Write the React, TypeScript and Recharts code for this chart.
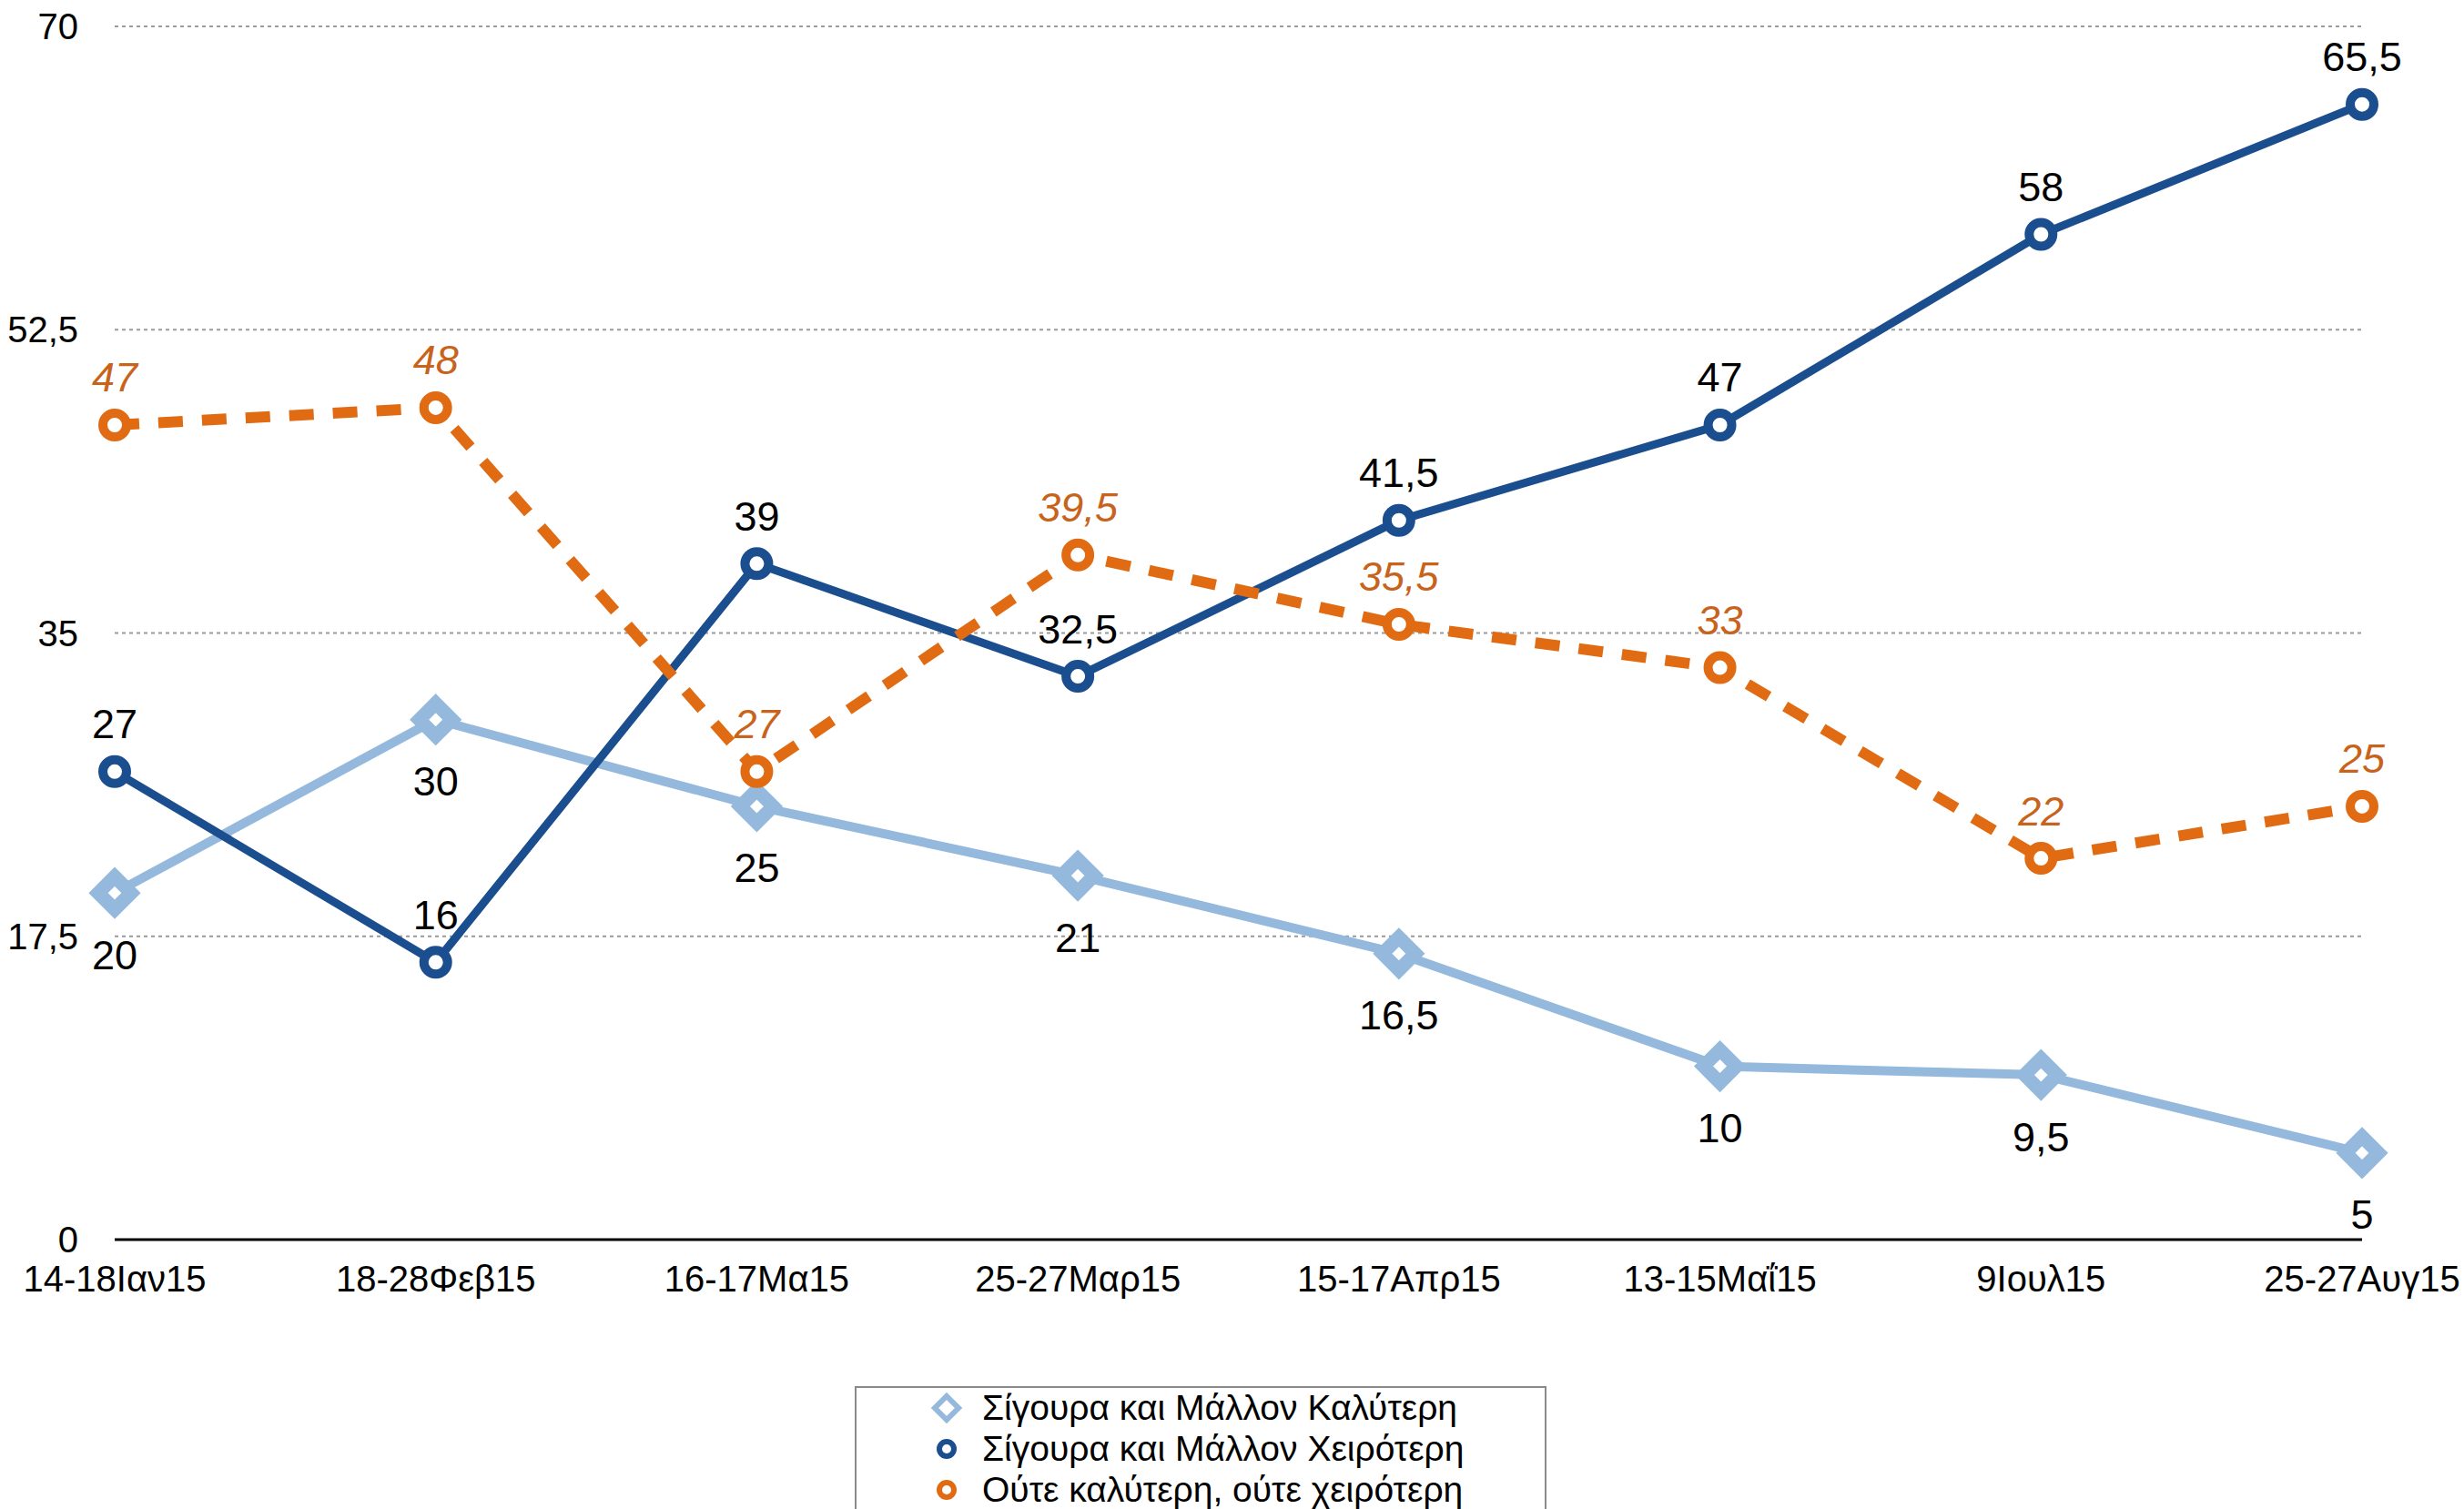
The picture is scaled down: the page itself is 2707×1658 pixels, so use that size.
import React from 'react';
import { LineChart, Line, XAxis, YAxis, CartesianGrid, LabelList, Legend } from 'recharts';

const categories = ['14-18Ιαν15', '18-28Φεβ15', '16-17Μα15', '25-27Μαρ15', '15-17Απρ15', '13-15Μαΐ15', '9Ιουλ15', '25-27Αυγ15'];
const better = [20, 30, 25, 21, 16.5, 10, 9.5, 5];
const worse = [27, 16, 39, 32.5, 41.5, 47, 58, 65.5];
const neither = [47, 48, 27, 39.5, 35.5, 33, 22, 25];
const yTicks = [0, 17.5, 35, 52.5, 70];

const seriesNames = {
  better: 'Σίγουρα και Μάλλον Καλύτερη',
  worse: 'Σίγουρα και Μάλλον Χειρότερη',
  neither: 'Ούτε καλύτερη, ούτε χειρότερη',
};

const LIGHT = '#94B9DD';
const DARK = '#1A4E8F';
const ORANGE = '#E06B12';
const ORANGE_TXT = '#C8631C';
const FONT = '"Liberation Sans", Arial, sans-serif';

const data = categories.map((c, i) => ({ cat: c, better: better[i], worse: worse[i], neither: neither[i] }));

const fmt = (v: number) => String(v).replace('.', ',');

const mkLabel = (dy: number, color: string, italic: boolean) => (props: any) => {
  const { x, y, value } = props;
  return (
    <text x={x} y={y + dy} textAnchor="middle" dominantBaseline="central" fontSize={45}
      fill={color} fontStyle={italic ? 'italic' : 'normal'} fontFamily={FONT}>
      {fmt(value)}
    </text>
  );
};

const diamondDot = (props: any) => {
  const { cx, cy, index } = props;
  const d = 18;
  return (
    <path key={'d' + index} d={`M${cx},${cy - d}L${cx + d},${cy}L${cx},${cy + d}L${cx - d},${cy}Z`}
      fill="#fff" stroke={LIGHT} strokeWidth={15} strokeLinejoin="miter" />
  );
};

const circleDot = (color: string) => (props: any) => {
  const { cx, cy, index } = props;
  return <circle key={'c' + index} cx={cx} cy={cy} r={13} fill="#fff" stroke={color} strokeWidth={10} />;
};

const LegendContent = () => {
  const rows = [
    { name: seriesNames.better, type: 'diamond', color: LIGHT },
    { name: seriesNames.worse, type: 'circle', color: DARK },
    { name: seriesNames.neither, type: 'circle', color: ORANGE },
  ];
  return (
    <div style={{ width: 760, height: 150, border: '2px solid #8a8a8a', boxSizing: 'border-box', background: '#fff', position: 'relative' }}>
      {rows.map((r, i) => (
        <div key={i} style={{ position: 'absolute', left: 0, top: i * 45, height: 44, width: 756 }}>
          <svg width={40} height={40} style={{ position: 'absolute', left: 79, top: 2 }}>
            {r.type === 'diamond' ? (
              <path d="M20,7L33,20L20,33L7,20Z" fill="#fff" stroke={r.color} strokeWidth={6} />
            ) : (
              <circle cx={20} cy={20} r={8} fill="#fff" stroke={r.color} strokeWidth={6} />
            )}
          </svg>
          <span style={{ position: 'absolute', left: 138, whiteSpace: 'nowrap', fontFamily: FONT, fontSize: 39, color: '#000', lineHeight: '44px', top: 0 }}>
            {r.name}
          </span>
        </div>
      ))}
    </div>
  );
};

export default function App() {
  return (
    <div style={{ position: 'absolute', left: 0, top: 0, width: 2707, height: 1658, overflow: 'hidden', background: '#fff' }}>
      <LineChart width={2707} height={1658} data={data} margin={{ top: 29, right: 112, left: 26, bottom: 236 }}>
        <CartesianGrid vertical={false} strokeDasharray="4 4" stroke="#9a9a9a" strokeWidth={2} />
        <XAxis dataKey="cat" interval={0} tickLine={false} tickSize={0} tickMargin={29} height={60}
          axisLine={{ stroke: '#000', strokeWidth: 3 }}
          tick={{ fontSize: 40, fill: '#000', fontFamily: FONT }} />
        <YAxis domain={[0, 70]} ticks={yTicks} interval={0} axisLine={false} tickLine={false} tickSize={0} tickMargin={40} width={100}
          tickFormatter={fmt} tick={{ fontSize: 40, fill: '#000', fontFamily: FONT }} />
        <Legend layout="vertical" align="center" verticalAlign="middle" content={<LegendContent />}
          wrapperStyle={{ position: 'absolute', left: 939, top: 1523, width: 760, height: 150 }} />
        <Line dataKey="better" name={seriesNames.better} stroke={LIGHT} strokeWidth={10} dot={diamondDot} activeDot={false} isAnimationActive={false}>
          <LabelList dataKey="better" content={mkLabel(68, '#000', false)} />
        </Line>
        <Line dataKey="worse" name={seriesNames.worse} stroke={DARK} strokeWidth={9} dot={circleDot(DARK)} activeDot={false} isAnimationActive={false}>
          <LabelList dataKey="worse" content={mkLabel(-52, '#000', false)} />
        </Line>
        <Line dataKey="neither" name={seriesNames.neither} stroke={ORANGE} strokeWidth={12} strokeDasharray="27 21" dot={circleDot(ORANGE)} activeDot={false} isAnimationActive={false}>
          <LabelList dataKey="neither" content={mkLabel(-52, ORANGE_TXT, true)} />
        </Line>
      </LineChart>
    </div>
  );
}
